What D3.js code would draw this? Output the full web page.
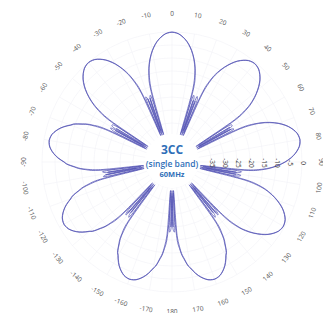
<!DOCTYPE html>
<html>
<head>
<meta charset="utf-8">
<script src="https://cdn.jsdelivr.net/npm/d3@7"></script>
<style>
  body { margin: 0; padding: 0; background: #fff; }
  svg { display: block; font-family: "Open Sans", sans-serif; }
</style>
</head>
<body>
<script>
// lobe centres in degrees (0 = up, clockwise); each sector covers centre-20 .. centre+19 at 1 deg
const lobeCenters = [-160, -120, -80, -40, 0, 40, 80, 120, 160];

// trace A, gain in dB, one array per lobe sector
const aN160 = [-37,-25,-38,-26,-19,-16.5,-14,-12.5,-10.8,-9.3,-8.4,-7.2,-6.1,-5.2,-4.4,-3.7,-3.1,-2.6,-2.3,-2.1,-2,-2.1,-2.3,-2.6,-3.1,-3.7,-4.4,-5.2,-6.1,-7.2,-8.4,-9.3,-10.8,-12.5,-14,-16.5,-19,-27,-38,-25];
const aN120 = [-37,-24,-38,-27,-19,-16.5,-14,-12.5,-10.8,-9.3,-8.4,-7.2,-6.1,-5.2,-4.4,-3.7,-3.1,-2.6,-2.3,-2.1,-2,-2.1,-2.3,-2.6,-3.1,-3.7,-4.4,-5.2,-6.1,-7.2,-8.4,-9.3,-10.8,-12.5,-14,-16.5,-19,-27,-38,-24];
const aN80  = [-36,-25,-38,-26,-19,-16.5,-14,-12.5,-10.8,-9.3,-8.4,-7.2,-6.1,-5.2,-4.4,-3.7,-3.1,-2.6,-2.3,-2.1,-2,-2.1,-2.3,-2.6,-3.1,-3.7,-4.4,-5.2,-6.1,-7.2,-8.4,-9.3,-10.8,-12.5,-14,-16.5,-19,-27,-38,-25];
const aN40  = [-37,-25,-38,-27,-18.5,-15.5,-13,-11,-9.3,-7.8,-6.4,-5.2,-4.1,-3.2,-2.4,-1.7,-1.1,-0.6,-0.3,-0.1,0,-0.1,-0.3,-0.6,-1.1,-1.7,-2.4,-3.2,-4.1,-5.2,-6.4,-7.8,-9.3,-11,-13,-15.5,-18.5,-27,-38,-24];
const a0    = [-37,-24,-38,-27,-18.5,-15.5,-13,-11,-9.3,-7.8,-6.4,-5.2,-4.1,-3.2,-2.4,-1.7,-1.1,-0.6,-0.3,-0.1,0,-0.1,-0.3,-0.6,-1.1,-1.7,-2.4,-3.2,-4.1,-5.2,-6.4,-7.8,-9.3,-11,-13,-15.5,-18.5,-27,-38,-25];
const a40   = [-37,-25,-38,-27,-18.5,-15.5,-13,-11.2,-9.6,-8.2,-6.9,-5.7,-4.6,-3.7,-2.9,-2.2,-1.6,-1.1,-0.8,-0.6,-0.5,-0.6,-0.8,-1.1,-1.6,-2.2,-2.9,-3.7,-4.6,-5.7,-6.9,-8.2,-9.6,-11.2,-13,-15.5,-18.5,-27,-38,-24];
const a80   = [-38,-24,-38,-27,-18.5,-15.5,-13,-11,-9.3,-7.8,-6.4,-5.2,-4.1,-3.2,-2.4,-1.7,-1.1,-0.6,-0.3,-0.1,0,-0.1,-0.3,-0.6,-1.1,-1.7,-2.4,-3.2,-4.1,-5.2,-6.4,-7.8,-9.3,-11,-13,-15.5,-18.5,-27,-38,-25];
const a120  = [-37,-25,-38,-27,-18.5,-15.5,-13,-11.2,-9.6,-8.2,-6.9,-5.7,-4.6,-3.7,-2.9,-2.2,-1.6,-1.1,-0.8,-0.6,-0.5,-0.6,-0.8,-1.1,-1.6,-2.2,-2.9,-3.7,-4.6,-5.7,-6.9,-8.2,-9.6,-11.2,-13,-15.5,-18.5,-27,-38,-24];
const a160  = [-37,-25,-38,-27,-19,-16.5,-14,-12.5,-10.8,-9.3,-8.4,-7.2,-6.1,-5.2,-4.4,-3.7,-3.1,-2.6,-2.3,-2.1,-2,-2.1,-2.3,-2.6,-3.1,-3.7,-4.4,-5.2,-6.1,-7.2,-8.4,-9.3,-10.8,-12.5,-14,-16.5,-19,-27,-38,-25];

// trace B (second carrier), same sectors
const bN160 = [-39,-24,-23,-39,-21.5,-17.5,-14.6,-12.9,-11.1,-9.5,-8.6,-7.4,-6.3,-5.3,-4.5,-3.8,-3.2,-2.7,-2.4,-2.2,-2.1,-2.2,-2.4,-2.7,-3.2,-3.8,-4.5,-5.3,-6.3,-7.4,-8.6,-9.5,-11.1,-12.9,-14.6,-17.5,-21.5,-39,-23,-24];
const bN120 = [-39,-23,-24,-39,-21.5,-17.5,-14.6,-12.9,-11.1,-9.5,-8.6,-7.4,-6.3,-5.3,-4.5,-3.8,-3.2,-2.7,-2.4,-2.2,-2.1,-2.2,-2.4,-2.7,-3.2,-3.8,-4.5,-5.3,-6.3,-7.4,-8.6,-9.5,-11.1,-12.9,-14.6,-17.5,-21.5,-39,-23,-24];
const bN80  = [-39,-24,-23,-39,-21.5,-17.5,-14.6,-12.9,-11.1,-9.5,-8.6,-7.4,-6.3,-5.3,-4.5,-3.8,-3.2,-2.7,-2.4,-2.2,-2.1,-2.2,-2.4,-2.7,-3.2,-3.8,-4.5,-5.3,-6.3,-7.4,-8.6,-9.5,-11.1,-12.9,-14.6,-17.5,-21.5,-39,-24,-23];
const bN40  = [-39,-23,-23,-39,-21,-16.5,-13.6,-11.4,-9.6,-8,-6.6,-5.4,-4.3,-3.3,-2.5,-1.8,-1.2,-0.7,-0.4,-0.2,-0.1,-0.2,-0.4,-0.7,-1.2,-1.8,-2.5,-3.3,-4.3,-5.4,-6.6,-8,-9.6,-11.4,-13.6,-16.5,-21,-39,-23,-24];
const b0    = [-39,-24,-23,-39,-21,-16.5,-13.6,-11.4,-9.6,-8,-6.6,-5.4,-4.3,-3.3,-2.5,-1.8,-1.2,-0.7,-0.4,-0.2,-0.1,-0.2,-0.4,-0.7,-1.2,-1.8,-2.5,-3.3,-4.3,-5.4,-6.6,-8,-9.6,-11.4,-13.6,-16.5,-21,-39,-23,-24];
const b40   = [-39,-23,-24,-39,-21,-16.5,-13.6,-11.6,-9.9,-8.4,-7.1,-5.9,-4.8,-3.8,-3,-2.3,-1.7,-1.2,-0.9,-0.7,-0.6,-0.7,-0.9,-1.2,-1.7,-2.3,-3,-3.8,-4.8,-5.9,-7.1,-8.4,-9.9,-11.6,-13.6,-16.5,-21,-39,-23,-23];
const b80   = [-39,-24,-23,-39,-21,-16.5,-13.6,-11.4,-9.6,-8,-6.6,-5.4,-4.3,-3.3,-2.5,-1.8,-1.2,-0.7,-0.4,-0.2,-0.1,-0.2,-0.4,-0.7,-1.2,-1.8,-2.5,-3.3,-4.3,-5.4,-6.6,-8,-9.6,-11.4,-13.6,-16.5,-21,-39,-23,-24];
const b120  = [-39,-23,-24,-39,-21,-16.5,-13.6,-11.6,-9.9,-8.4,-7.1,-5.9,-4.8,-3.8,-3,-2.3,-1.7,-1.2,-0.9,-0.7,-0.6,-0.7,-0.9,-1.2,-1.7,-2.3,-3,-3.8,-4.8,-5.9,-7.1,-8.4,-9.9,-11.6,-13.6,-16.5,-21,-39,-24,-23];
const b160  = [-39,-24,-23,-39,-21.5,-17.5,-14.6,-12.9,-11.1,-9.5,-8.6,-7.4,-6.3,-5.3,-4.5,-3.8,-3.2,-2.7,-2.4,-2.2,-2.1,-2.2,-2.4,-2.7,-3.2,-3.8,-4.5,-5.3,-6.3,-7.4,-8.6,-9.5,-11.1,-12.9,-14.6,-17.5,-21.5,-39,-23,-24];

const traceA = [aN160, aN120, aN80, aN40, a0, a40, a80, a120, a160];
const traceB = [bN160, bN120, bN80, bN40, b0, b40, b80, b120, b160];

const angleTicks = d3.range(-170, 181, 10);
const radialTicks = [-35, -30, -25, -20, -15, -10, -5, 0];
const titleLines = ["3CC", "(single band)", "60MHz"];

const width = 323, height = 313;
const cx = 172, cy = 162;

const toPoints = sectors => {
  const pts = [];
  sectors.forEach((arr, k) => {
    arr.forEach((db, i) => pts.push({ angle: lobeCenters[k] - 20 + i, db: db }));
  });
  return pts;
};

const rScale = d3.scaleLinear().domain([-50, 0]).range([0, 130]);
const rad = a => a * Math.PI / 180;

const svg = d3.select("body").append("svg")
  .attr("width", width)
  .attr("height", height);

const g = svg.append("g").attr("transform", `translate(${cx},${cy})`);

// faint grid
g.append("g")
  .selectAll("circle")
  .data(d3.range(-45, 1, 5))
  .join("circle")
    .attr("r", d => rScale(d))
    .attr("fill", "none")
    .attr("stroke", "#f2f2f6")
    .attr("stroke-width", 0.6);

g.append("g")
  .selectAll("line")
  .data(d3.range(0, 360, 10))
  .join("line")
    .attr("x1", 0).attr("y1", 0)
    .attr("x2", d => rScale(0) * Math.sin(rad(d)))
    .attr("y2", d => -rScale(0) * Math.cos(rad(d)))
    .attr("stroke", "#f2f2f6")
    .attr("stroke-width", 0.6);

// pattern traces
const line = d3.lineRadial()
  .angle(d => rad(d.angle))
  .radius(d => rScale(d.db))
  .curve(d3.curveCatmullRomClosed);

g.append("g")
  .selectAll("path")
  .data([toPoints(traceA), toPoints(traceB)])
  .join("path")
    .attr("d", line)
    .attr("fill", "none")
    .attr("stroke", "#5656b6")
    .attr("stroke-width", 0.75);

// white hub with title
g.append("circle")
  .attr("cx", 0).attr("cy", -1)
  .attr("r", 27)
  .attr("fill", "#fff");

const title = g.append("g").attr("fill", "#2f6fb8").attr("text-anchor", "middle");
title.append("text").attr("y", -8).attr("font-size", 12).attr("font-weight", 700).text(titleLines[0]);
title.append("text").attr("y", 4.5).attr("font-size", 8.5).attr("font-weight", 600).text(titleLines[1]);
title.append("text").attr("y", 14.5).attr("font-size", 7.5).attr("font-weight", 700).text(titleLines[2]);

// angle labels
const labR = 149;
g.append("g")
  .selectAll("text")
  .data(angleTicks)
  .join("text")
    .attr("transform", d => {
      const x = labR * Math.sin(rad(d)), y = -labR * Math.cos(rad(d));
      const rot = Math.abs(d) > 90 ? d + 180 : d;
      return `translate(${x},${y}) rotate(${rot})`;
    })
    .attr("text-anchor", "middle")
    .attr("dominant-baseline", "central")
    .attr("font-size", 6.5)
    .attr("fill", "#555")
    .text(d => d);

// radial labels along the 90 deg spoke
g.append("g")
  .selectAll("text")
  .data(radialTicks)
  .join("text")
    .attr("transform", d => `translate(${rScale(d) + 1},1) rotate(90)`)
    .attr("text-anchor", "middle")
    .attr("dominant-baseline", "central")
    .attr("font-size", 6.5)
    .attr("fill", "#333")
    .text(d => d);
</script>
</body>
</html>
